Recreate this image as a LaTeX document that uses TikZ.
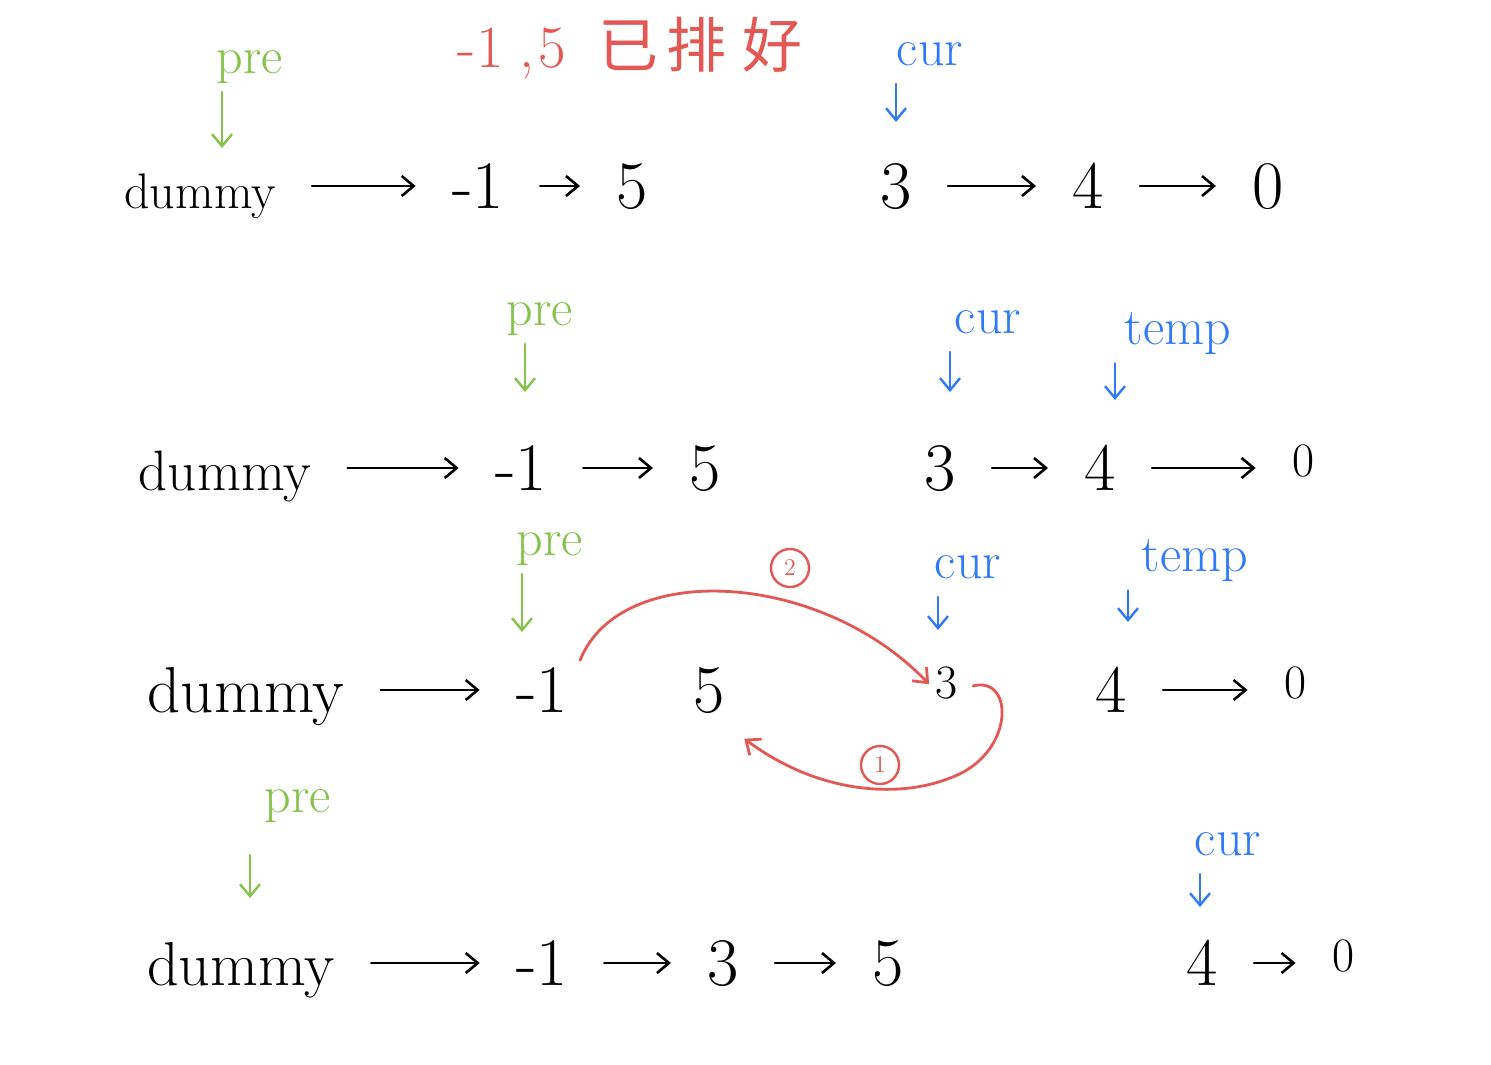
\documentclass[tikz,border=0pt]{standalone}
\usepackage{fontspec}
\newfontfamily\cjkfont{Noto Sans CJK SC}
\usetikzlibrary{arrows.meta}

\definecolor{pregreen}{RGB}{132,194,76}
\definecolor{curblue}{RGB}{48,122,246}
\definecolor{swapred}{RGB}{226,88,84}

\begin{document}
\begin{tikzpicture}[x=0.5pt, y=-0.5pt, >={Straight Barb[length=6pt,width=10pt]},
  line cap=round, line join=round,
  item/.style={anchor=base, inner sep=0pt, text height=28pt, text depth=6pt},
  word/.style={item, font=\fontsize{#1}{#1}\selectfont},
  num/.style={item, font=\fontsize{34}{40}\selectfont},
  smallnum/.style={anchor=base, inner sep=0pt, text height=20pt, text depth=12pt,
    yshift=7pt, font=\fontsize{24}{28}\selectfont},
  link/.style={->, line width=1.3pt, shorten <=18pt, shorten >=18pt},
  tag/.style={font=\fontsize{26}{30}\selectfont, inner sep=1pt, text depth=0pt},
  ptr/.style={->, line width=1.2pt, shorten <=8pt},
  swap/.style={->, draw=swapred, line width=1.4pt},
  stepmark/.style={circle, draw=swapred, text=swapred, line width=1.2pt,
    minimum size=19pt, inner sep=0pt, font=\fontsize{12}{13}\selectfont}]
  \useasboundingbox (0,0) rectangle (1491,1064);

  % riga 1
  \node[text=swapred, font=\fontsize{30}{34}\selectfont] (title) at (630,48)
    {-1\hspace{8pt},\hspace{2pt}5\hspace{16pt}{\cjkfont 已\hspace{4pt}排\hspace{8pt}好}};
  \node[word=25] (d1) at (200,208) {dummy};
  \node[num] (m1) at (478,208) {-1};
  \node[num] (f1) at (632,208) {5};
  \node[num] (t1) at (896,208) {3};
  \node[num] (fo1) at (1088,208) {4};
  \node[num] (z1) at (1268,208) {0};
  \draw[link] (d1) -- (m1);
  \draw[link] (m1) -- (f1);
  \draw[link] (t1) -- (fo1);
  \draw[link] (fo1) -- (z1);
  \node[tag, text=pregreen] (pre1) at (250,62) {pre};
  \node[tag, text=curblue] (cur1) at (930,54) {cur};
  \coordinate (preH1) at (222,148);
  \coordinate (curH1) at (896,122);
  \draw[ptr, pregreen] (preH1 |- pre1.south) -- (preH1);
  \draw[ptr, curblue] (curH1 |- cur1.south) -- (curH1);

  % riga 2
  \node[word=28.5] (d2) at (225,490) {dummy};
  \node[num] (m2) at (521,490) {-1};
  \node[num] (f2) at (705,490) {5};
  \node[num] (t2) at (940,490) {3};
  \node[num] (fo2) at (1100,490) {4};
  \node[smallnum] (z2) at (1303,490) {0};
  \draw[link] (d2) -- (m2);
  \draw[link] (m2) -- (f2);
  \draw[link] (t2) -- (fo2);
  \draw[link] (fo2) -- (z2);
  \node[tag, text=pregreen] (pre2) at (540,314) {pre};
  \node[tag, text=curblue] (cur2) at (988,322) {cur};
  \node[tag, text=curblue] (temp2) at (1178,329) {temp};
  \coordinate (preH2) at (525,392);
  \coordinate (curH2) at (950,392);
  \coordinate (tempH2) at (1115,400);
  \draw[ptr, pregreen] (preH2 |- pre2.south) -- (preH2);
  \draw[ptr, curblue] (curH2 |- cur2.south) -- (curH2);
  \draw[ptr, curblue] (tempH2 |- temp2.south) -- (tempH2);

  % riga 3
  \node[word=32.5] (d3) at (246,712) {dummy};
  \node[num] (m3) at (542,712) {-1};
  \node[num] (f3) at (709,712) {5};
  \node[smallnum] (t3) at (946,712) {3};
  \node[num] (fo3) at (1111,712) {4};
  \node[smallnum] (z3) at (1295,712) {0};
  \draw[link] (d3) -- (m3);
  \draw[link] (fo3) -- (z3);
  \node[tag, text=pregreen] (pre3) at (550,544) {pre};
  \node[tag, text=curblue] (cur3) at (968,567) {cur};
  \node[tag, text=curblue] (temp3) at (1195,556) {temp};
  \coordinate (preH3) at (522,632);
  \coordinate (curH3) at (938,630);
  \coordinate (tempH3) at (1128,622);
  \draw[ptr, pregreen] (preH3 |- pre3.south) -- (preH3);
  \draw[ptr, curblue] (curH3 |- cur3.south) -- (curH3);
  \draw[ptr, curblue] (tempH3 |- temp3.south) -- (tempH3);
  \draw[swap, shorten <=16pt, shorten >=4pt] (m3.east)
    .. controls (620,560) and (820,570) .. (t3.west); % passo 2
  \draw[swap, shorten <=8pt, shorten >=12pt] (t3.east)
    .. controls (1015,675) and (1015,755) .. (950,778)
    .. controls (900,798) and (820,795) .. (f3.south east); % passo 1
  \node[stepmark] (s2) at (790,568) {2};
  \node[stepmark] (s1) at (880,765) {1};

  % riga 4
  \node[word=31] (d4) at (241,985) {dummy};
  \node[num] (m4) at (542,985) {-1};
  \node[num] (t4) at (723,985) {3};
  \node[num] (f4) at (888,985) {5};
  \node[num] (fo4) at (1202,985) {4};
  \node[smallnum] (z4) at (1343,985) {0};
  \draw[link] (d4) -- (m4);
  \draw[link] (m4) -- (t4);
  \draw[link] (t4) -- (f4);
  \draw[link] (fo4) -- (z4);
  \node[tag, text=pregreen] (pre4) at (298,801) {pre};
  \node[tag, text=curblue] (cur4) at (1228,844) {cur};
  \coordinate (preH4) at (250,898);
  \coordinate (curH4) at (1200,907);
  \draw[ptr, pregreen, shorten <=20pt] (preH4 |- pre4.south) -- (preH4);
  \draw[ptr, curblue] (curH4 |- cur4.south) -- (curH4);
\end{tikzpicture}
\end{document}
